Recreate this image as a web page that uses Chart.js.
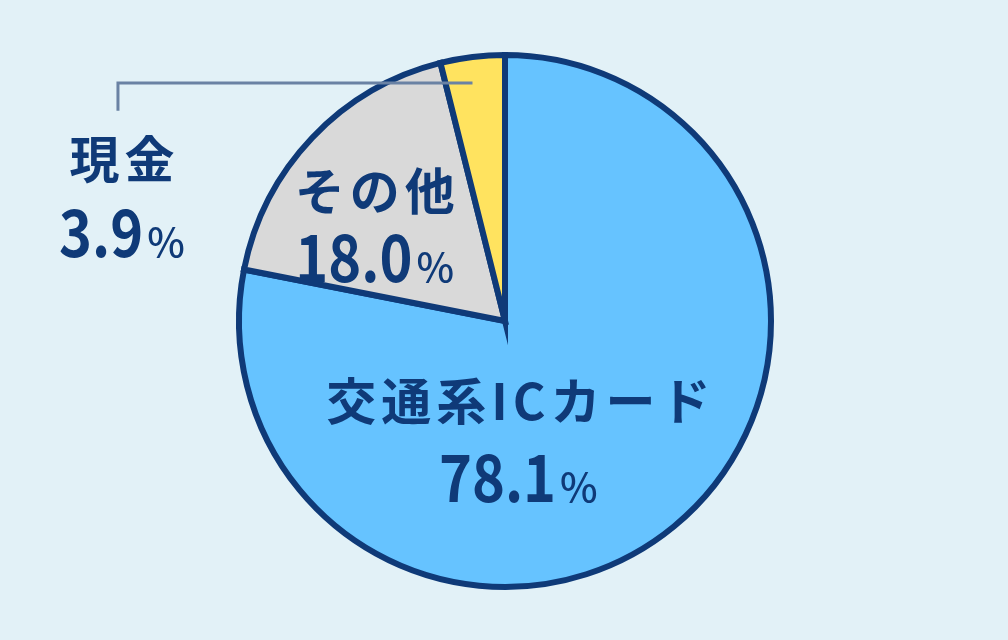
<!DOCTYPE html>
<html>
<head>
<meta charset="utf-8">
<script src="https://cdn.jsdelivr.net/npm/chart.js@4"></script>
<style>
  html, body { margin: 0; padding: 0; background: #e2f1f7; }
  #wrap { width: 1008px; height: 640px; position: relative; }
</style>
</head>
<body>
<div id="wrap"><canvas id="chart"></canvas></div>
<script>
const categories = ["交通系ICカード", "その他", "現金"];
const shares = [78.1, 18.0, 3.9];
const sliceColors = ["#66c3ff", "#d9d9d9", "#ffe35f"];

const NAVY = "#0f3a78";
const JP_FONT = '"Noto Sans CJK JP", "Noto Sans", sans-serif';

// where each label sits, relative to the pie centre (in units of radius)
const labelSpots = [
    { dx: 0.05, dy: 0.30, gap: 0.29 },
    { dx: -0.49, dy: -0.49, gap: 0.255 },
    { dx: -1.44, dy: -0.61, gap: 0.28 }
];

const NUM_SQUEEZE = 0.86;

function drawLabel(c, x, y, name, value, gapPx) {
    c.save();
    c.fillStyle = NAVY;
    c.textBaseline = "middle";
    c.textAlign = "center";
    c.font = "bold 50px " + JP_FONT;
    c.letterSpacing = "5px";
    c.fillText(name, x + 2.5, y);

    c.letterSpacing = "0px";
    const num = value.toFixed(1);
    c.font = "bold 65px " + JP_FONT;
    const wNum = c.measureText(num).width * NUM_SQUEEZE;
    c.font = "500 40px " + JP_FONT;
    const wPct = c.measureText("%").width;
    const left = x - (wNum + wPct + 4) / 2;
    c.textAlign = "left";
    c.textBaseline = "alphabetic";
    const base = y + gapPx + 24;

    c.save();
    c.translate(left, base);
    c.scale(NUM_SQUEEZE, 1);
    c.font = "bold 65px " + JP_FONT;
    c.fillText(num, 0, 0);
    c.restore();

    c.font = "500 40px " + JP_FONT;
    c.fillText("%", left + wNum + 4, base);
    c.restore();
}

const pieLabels = {
    id: "pieLabels",
    afterDatasetsDraw(chart) {
        const c = chart.ctx;
        const arcs = chart.getDatasetMeta(0).data;
        const cx = arcs[0].x, cy = arcs[0].y, r = arcs[0].outerRadius;

        // leader line for the thin slice
        const cash = arcs[2];
        const mid = (cash.startAngle + cash.endAngle) / 2;
        const lx = cx - r * 1.455;
        const ex = cx + Math.cos(mid) * r;
        const ey = cy - r * 0.895;
        c.save();
        c.strokeStyle = "#6a82a4";
        c.lineWidth = 3;
        c.beginPath();
        c.moveTo(lx, cy - r * 0.79);
        c.lineTo(lx, ey);
        c.lineTo(ex, ey);
        c.stroke();
        c.restore();

        categories.forEach((name, i) => {
            const s = labelSpots[i];
            drawLabel(c, cx + s.dx * r, cy + s.dy * r, name, shares[i], s.gap * r);
        });
    }
};

new Chart(document.getElementById("chart"), {
    type: "pie",
    data: {
        labels: categories,
        datasets: [{
            data: shares,
            backgroundColor: sliceColors,
            borderColor: NAVY,
            borderWidth: 6,
            borderJoinStyle: "miter"
        }]
    },
    options: {
        responsive: true,
        maintainAspectRatio: false,
        animation: false,
        events: [],
        layout: { padding: { left: 236, right: 234, top: 52, bottom: 50 } },
        plugins: {
            legend: { display: false },
            tooltip: { enabled: false }
        }
    },
    plugins: [pieLabels]
});
</script>
</body>
</html>
